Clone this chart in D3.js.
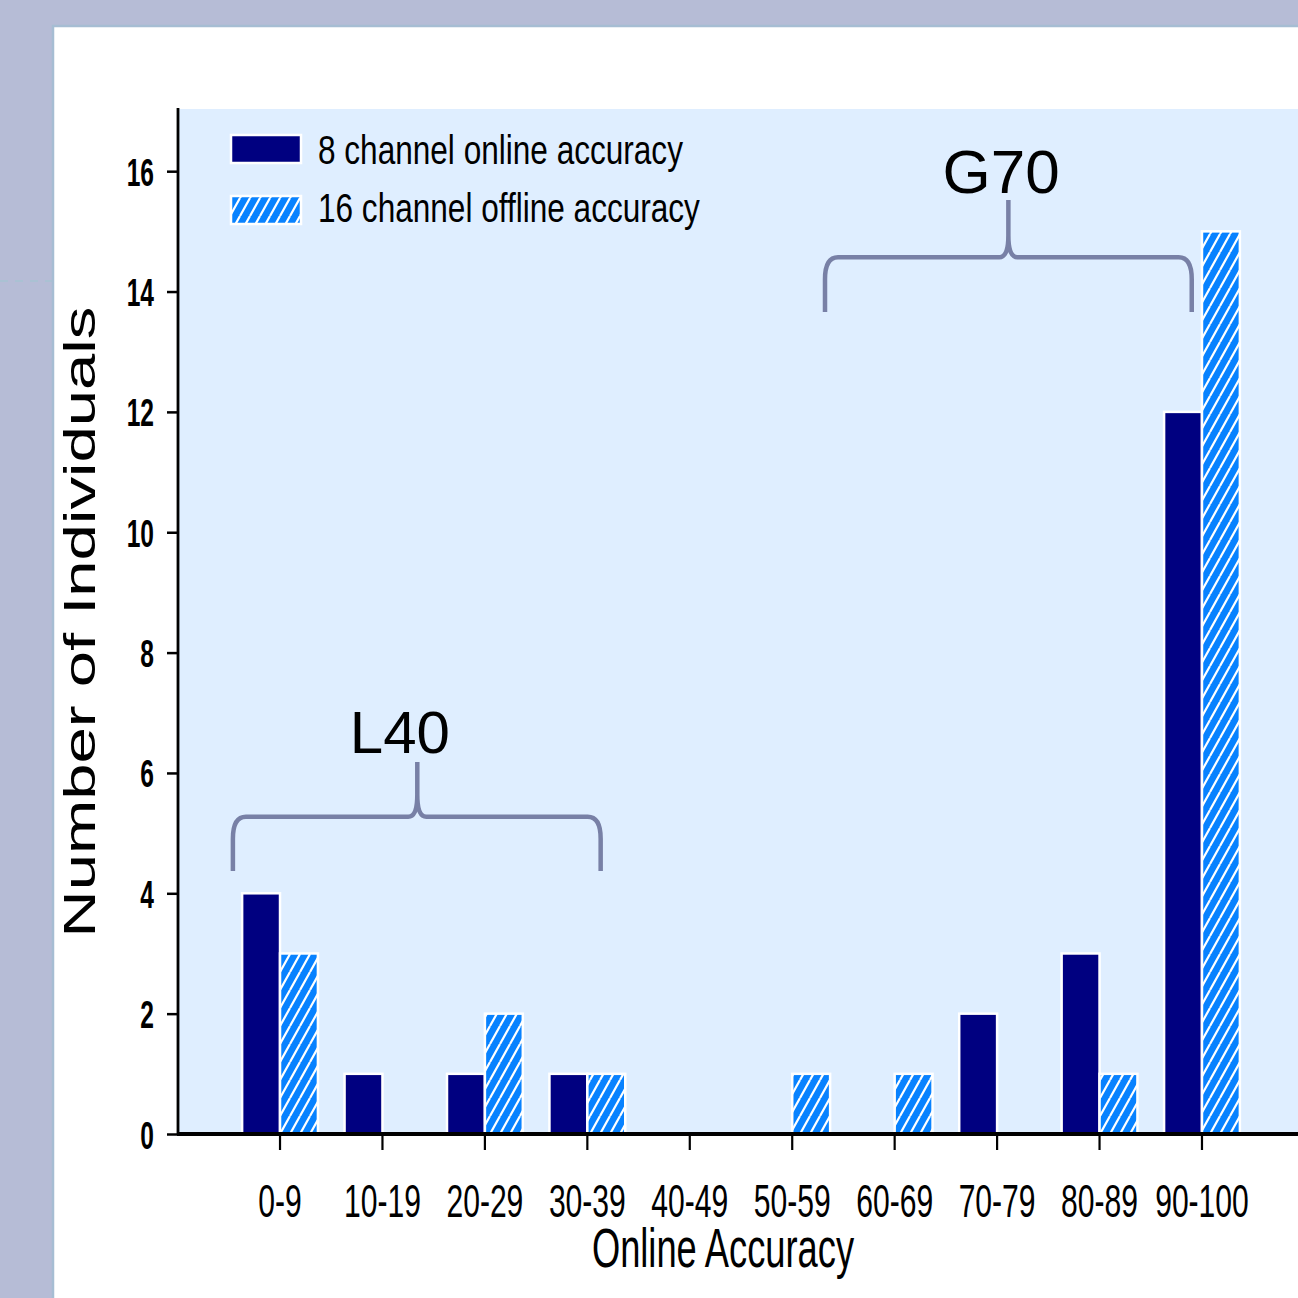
<!DOCTYPE html>
<html><head><meta charset="utf-8">
<script src="https://cdn.jsdelivr.net/npm/d3@7"></script>
<style>html,body{margin:0;padding:0;background:#b6bcd6;}svg{display:block}</style>
</head><body>
<script>
const categories = ["0-9","10-19","20-29","30-39","40-49","50-59","60-69","70-79","80-89","90-100"];
const online8 = [4,1,1,1,0,0,0,2,3,12];
const offline16 = [3,0,2,1,0,1,1,0,1,15];
const yTicks = [0,2,4,6,8,10,12,14,16];
const seriesNames = ["8 channel online accuracy","16 channel offline accuracy"];
const xTitle = "Online Accuracy";
const yTitle = "Number of Individuals";

const W = 1298, H = 1298;
const FONT = "'Liberation Sans', Arial, sans-serif";
const svg = d3.select("body").append("svg").attr("width", W).attr("height", H);

// background and panel
svg.append("rect").attr("width", W).attr("height", H).attr("fill", "#b6bcd6");
svg.append("line").attr("x1", 0).attr("x2", 52).attr("y1", 281).attr("y2", 281)
  .attr("stroke", "#a6c2d2").attr("stroke-width", 1.5).attr("stroke-dasharray", "8 7");
svg.append("rect").attr("x", 53).attr("y", 26).attr("width", W).attr("height", H)
  .attr("fill", "#fff").attr("stroke", "#a6bdd3").attr("stroke-width", 2.5);

const x = d3.scaleBand().domain(categories).range([228.8, 1253.2]).paddingInner(0).paddingOuter(0);
const y = d3.scaleLinear().domain([0, 17.05]).range([1134, 108]);
const cx = c => x(c) + x.bandwidth() / 2;
const bw = x.bandwidth() * 0.37;

// plot background
svg.append("rect").attr("x", 179).attr("y", y(17.05) + 1).attr("width", W - 179).attr("height", y(0) - y(17.05))
  .attr("fill", "#dfeeff");

// hatch pattern
const defs = svg.append("defs");
const pat = defs.append("pattern").attr("id", "hatch").attr("patternUnits", "userSpaceOnUse")
  .attr("width", 10).attr("height", 18);
pat.append("rect").attr("width", 10).attr("height", 18).attr("fill", "#0882ff");
pat.append("path").attr("d", "M0,18 L10,0 M-10,18 L0,0 M10,18 L20,0")
  .attr("stroke", "#fff").attr("stroke-width", 2.2);

// bars
const bars = svg.append("g");
bars.selectAll("rect.b8").data(categories.map((c, i) => ({c, v: online8[i]})).filter(d => d.v > 0))
  .enter().append("rect").attr("class", "b8")
  .attr("x", d => cx(d.c) - bw).attr("width", bw)
  .attr("y", d => y(d.v)).attr("height", d => y(0) - y(d.v))
  .attr("fill", "#000080").attr("stroke", "#fff").attr("stroke-width", 2.5);
bars.selectAll("rect.b16").data(categories.map((c, i) => ({c, v: offline16[i]})).filter(d => d.v > 0))
  .enter().append("rect").attr("class", "b16")
  .attr("x", d => cx(d.c)).attr("width", bw)
  .attr("y", d => y(d.v)).attr("height", d => y(0) - y(d.v))
  .attr("fill", "url(#hatch)").attr("stroke", "#fff").attr("stroke-width", 2.5);

// y axis
const yAx = svg.append("g").attr("transform", "translate(178,0)")
  .call(d3.axisLeft(y).tickValues(yTicks).tickSize(11).tickSizeOuter(0).tickFormat(d3.format("d")));
yAx.select(".domain").attr("stroke", "#000").attr("stroke-width", 2.8).attr("d", `M0,${y(17.05)}V${y(0) + 1}`);
yAx.selectAll(".tick line").attr("stroke", "#000").attr("stroke-width", 2.5);
yAx.selectAll(".tick text").attr("x", null).attr("dy", null)
  .attr("transform", "translate(-24,14) scale(0.63,1)")
  .attr("text-anchor", "end").attr("font-family", FONT).attr("font-weight", "bold")
  .attr("font-size", 39).attr("fill", "#000");

// x axis
const xAx = svg.append("g").attr("transform", `translate(0,${y(0)})`)
  .call(d3.axisBottom(x).tickSize(16).tickSizeOuter(0));
xAx.select(".domain").attr("stroke", "#000").attr("stroke-width", 3.8).attr("d", `M177,0H${W}`);
xAx.selectAll(".tick line").attr("stroke", "#000").attr("stroke-width", 2.2);
xAx.selectAll(".tick text").attr("y", null).attr("dy", null)
  .attr("transform", "translate(0,83) scale(0.64,1)")
  .attr("text-anchor", "middle").attr("font-family", FONT).attr("font-size", 47).attr("fill", "#000");

// axis titles
svg.append("text").attr("transform", "translate(723,1267) scale(0.66,1)")
  .attr("text-anchor", "middle").attr("font-family", FONT).attr("font-size", 55).attr("fill", "#000").text(xTitle);
svg.append("text").attr("transform", "translate(95,622) rotate(-90) scale(1.45,1)")
  .attr("text-anchor", "middle").attr("font-family", FONT).attr("font-size", 45).attr("fill", "#000").text(yTitle);

// legend
const leg = svg.append("g");
leg.append("rect").attr("x", 231).attr("y", 135).attr("width", 70).attr("height", 28)
  .attr("fill", "#000080").attr("stroke", "#fff").attr("stroke-width", 2.5);
leg.append("rect").attr("x", 231).attr("y", 196).attr("width", 70).attr("height", 28)
  .attr("fill", "url(#hatch)").attr("stroke", "#fff").attr("stroke-width", 2.5);
[164, 222].forEach((by, i) => {
  leg.append("text").attr("transform", `translate(318,${by}) scale(0.77,1)`)
    .attr("font-family", FONT).attr("font-size", 41).attr("fill", "#000").text(seriesNames[i]);
});

// brackets
function brace(x1, x2, xm, yb, yh, yt) {
  const r = 13, rm = 9;
  return `M${x1},${yb} L${x1},${yh + 22} Q${x1},${yh} ${x1 + r},${yh} L${xm - rm},${yh} Q${xm},${yh} ${xm},${yh - 22} L${xm},${yt}` +
    ` M${xm},${yh - 22} Q${xm},${yh} ${xm + rm},${yh} L${x2 - r},${yh} Q${x2},${yh} ${x2},${yh + 22} L${x2},${yb}`;
}
const bw2 = x.bandwidth();
const L40 = brace(cx("0-9") - 0.46 * bw2, cx("30-39") + 0.13 * bw2, cx("10-19") + 0.34 * bw2, y(4.37), y(5.27), y(6.18));
const G70 = brace(cx("50-59") + 0.32 * bw2, cx("90-100") - 0.1 * bw2, cx("70-79") + 0.11 * bw2, y(13.66), y(14.57), y(15.52));
[L40, G70].forEach(d => svg.append("path").attr("d", d).attr("fill", "none")
  .attr("stroke", "#7880a6").attr("stroke-width", 4.5).attr("stroke-linecap", "butt"));
svg.append("text").attr("x", cx("10-19") + 0.17 * bw2).attr("y", y(6.33)).attr("text-anchor", "middle")
  .attr("font-family", FONT).attr("font-size", 60).attr("fill", "#000").text("L40");
svg.append("text").attr("x", cx("70-79") + 0.04 * bw2).attr("y", y(15.63)).attr("text-anchor", "middle")
  .attr("font-family", FONT).attr("font-size", 62).attr("fill", "#000").text("G70");
</script>
</body></html>
